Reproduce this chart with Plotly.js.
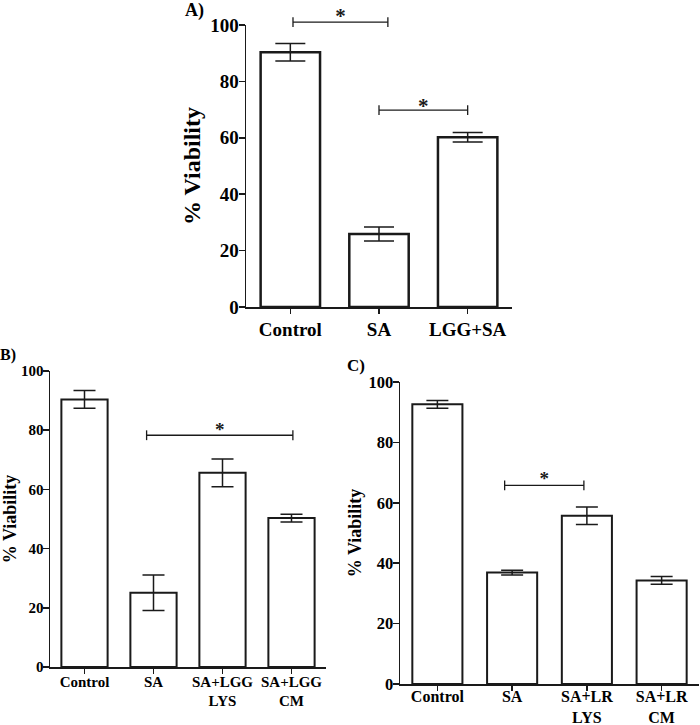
<!DOCTYPE html>
<html>
<head>
<meta charset="utf-8">
<script src="https://cdn.plot.ly/plotly-3.0.1.min.js"></script>
<style>html,body{margin:0;padding:0;background:#fff;}#chart{width:700px;height:725px;}</style>
</head>
<body>
<div id="chart"></div>
<script>
// ---- Panel A ----
const catsA = ['Control', 'SA', 'LGG+SA'];
const valsA = [90.3, 25.9, 60.2];
const errA  = [3.1, 2.5, 1.7];
const sigA1 = {x0: 0.03, x1: 1.1, y: 101, starY: 102.5};
const sigA2 = {x0: 1.0, x1: 2.0, y: 69.8, starY: 70.6};

// ---- Panel B ----
const catsB = ['Control', 'SA', 'SA+LGG<br>LYS', 'SA+LGG<br>CM'];
const valsB = [90.4, 25.1, 65.6, 50.3];
const errB  = [3.0, 6.0, 4.7, 1.3];
const sigB  = {x0: 0.9, x1: 3.02, y: 78.3, starY: 79.8};

// ---- Panel C ----
const catsC = ['Control', 'SA', 'SA+LR<br>LYS', 'SA+LR<br>CM'];
const valsC = [92.6, 36.9, 55.7, 34.3];
const errC  = [1.3, 0.8, 2.9, 1.3];
const sigC  = {x0: 0.9, x1: 1.96, y: 65.8, starY: 67.5};

const yTicks = [0, 20, 40, 60, 80, 100];
const panelLabels = ['A)', 'B)', 'C)'];
const yTitle = '% Viability';

const FONT = 'Liberation Serif';
const DARK = '#1a1a1a';

function idx(arr){ return arr.map((c, i) => i); }

function barTrace(cats, vals, errs, xa, ya, lw, capw){
  return {
    type: 'bar', x: idx(cats), y: vals, width: 0.67,
    xaxis: xa, yaxis: ya,
    marker: {color: '#ffffff', line: {color: DARK, width: lw}},
    error_y: {type: 'data', array: errs, visible: true, color: DARK, thickness: 1.5, width: capw},
    showlegend: false, hoverinfo: 'y'
  };
}

function sigTrace(s, xa, ya, starSize){
  return [{
    type: 'scatter', mode: 'lines+markers', x: [s.x0, s.x1], y: [s.y, s.y],
    xaxis: xa, yaxis: ya, cliponaxis: false,
    line: {color: DARK, width: 1.3},
    marker: {symbol: 'line-ns-open', size: 7, color: DARK, line: {color: DARK, width: 1.3}},
    showlegend: false, hoverinfo: 'skip'
  }, {
    type: 'scatter', mode: 'text', x: [(s.x0 + s.x1) / 2], y: [s.starY], text: ['*'],
    textposition: 'middle center', cliponaxis: false,
    textfont: {family: FONT, size: starSize, color: DARK, weight: 'bold'},
    xaxis: xa, yaxis: ya, showlegend: false, hoverinfo: 'skip'
  }];
}

const data = [
  barTrace(catsA, valsA, errA, 'x', 'y', 2.5, 15),
  ...sigTrace(sigA1, 'x', 'y4', 21),
  ...sigTrace(sigA2, 'x', 'y4', 21),
  barTrace(catsB, valsB, errB, 'x2', 'y2', 2, 11),
  ...sigTrace(sigB, 'x2', 'y2', 19),
  barTrace(catsC, valsC, errC, 'x3', 'y3', 2, 11),
  ...sigTrace(sigC, 'x3', 'y3', 19)
];

function xax(cats, dom, fs, anchor, lso){
  return {
    domain: dom, anchor: anchor, range: [-0.5, cats.length - 0.5],
    tickmode: 'array', tickvals: idx(cats), ticktext: cats,
    ticks: 'outside', ticklen: 5, tickwidth: 1.5, tickcolor: DARK,
    ticklabelstandoff: lso,
    showline: true, linecolor: DARK, linewidth: 1.5,
    showgrid: false, zeroline: false, fixedrange: true,
    tickfont: {family: FONT, size: fs, color: '#000', weight: 'bold'}
  };
}
function yax(dom, fs, tfs, standoff, anchor){
  return {
    domain: dom, anchor: anchor, range: [0, 100],
    tickmode: 'array', tickvals: yTicks,
    ticks: 'outside', ticklen: 6, tickwidth: 1.5, tickcolor: DARK,
    ticklabelstandoff: -4,
    showline: true, linecolor: DARK, linewidth: 1.5,
    showgrid: false, zeroline: false, fixedrange: true,
    tickfont: {family: FONT, size: fs, color: '#000', weight: 'bold'},
    title: {text: yTitle, standoff: standoff, font: {family: FONT, size: tfs, color: '#000', weight: 'bold'}}
  };
}

// Panel A: y=0 at 307px, y=100 at 25px. An invisible companion axis with the
// same scale, reaching to the top of the page, carries the significance brackets.
const aBottom = 307, aTop = 25, extTop = 1;
const extMax = 100 * (aBottom - extTop) / (aBottom - aTop);

const layout = {
  width: 700, height: 725,
  margin: {l: 0, r: 0, t: 0, b: 0},
  paper_bgcolor: '#ffffff', plot_bgcolor: 'rgba(0,0,0,0)',
  xaxis:  xax(catsA, [246/700, 512/700], 19, 'y', 0),
  yaxis:  yax([1 - aBottom/725, 1 - aTop/725], 19, 24, 3, 'x'),
  yaxis4: {domain: [1 - aBottom/725, 1 - extTop/725], anchor: 'x', range: [0, extMax],
           visible: false, showgrid: false, zeroline: false, fixedrange: true},
  xaxis2: xax(catsB, [50/700, 326/700], 15, 'y2', -5),
  yaxis2: yax([1 - 667/725, 1 - 371/725], 15, 18, 0, 'x2'),
  xaxis3: xax(catsC, [400/700, 699/700], 16, 'y3', -8),
  yaxis3: yax([1 - 684/725, 1 - 382/725], 16.5, 18, 2, 'x3'),
  annotations: [
    {text: panelLabels[0], x: 194/700, y: 1 - 10/725, xref: 'paper', yref: 'paper', showarrow: false,
     xanchor: 'center', yanchor: 'middle', font: {family: FONT, size: 18, color: '#000', weight: 'bold'}},
    {text: panelLabels[1], x: 8/700, y: 1 - 355/725, xref: 'paper', yref: 'paper', showarrow: false,
     xanchor: 'center', yanchor: 'middle', font: {family: FONT, size: 16, color: '#000', weight: 'bold'}},
    {text: panelLabels[2], x: 356/700, y: 1 - 365/725, xref: 'paper', yref: 'paper', showarrow: false,
     xanchor: 'center', yanchor: 'middle', font: {family: FONT, size: 17, color: '#000', weight: 'bold'}}
  ]
};

Plotly.newPlot('chart', data, layout, {staticPlot: true, displayModeBar: false});
</script>
</body>
</html>
